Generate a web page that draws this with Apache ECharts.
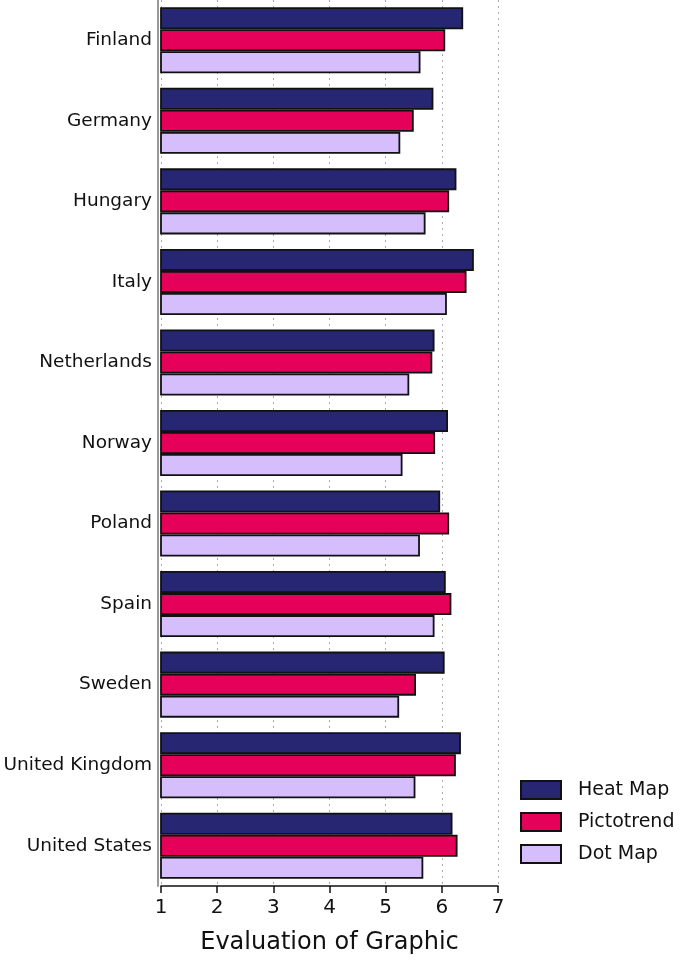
<!DOCTYPE html>
<html>
<head>
<meta charset="utf-8">
<script src="https://cdn.jsdelivr.net/npm/echarts@6/dist/echarts.min.js"></script>
<style>
html,body{margin:0;padding:0;background:#fff;}
#chart{width:689px;height:961px;}
</style>
</head>
<body>
<div id="chart"></div>
<script>
const countries = ["Finland","Germany","Hungary","Italy","Netherlands","Norway","Poland","Spain","Sweden","United Kingdom","United States"];
const heatMap    = [6.38, 5.85, 6.26, 6.57, 5.87, 6.11, 5.97, 6.07, 6.05, 6.34, 6.19];
const pictotrend = [6.06, 5.50, 6.13, 6.44, 5.83, 5.88, 6.13, 6.17, 5.54, 6.25, 6.28];
const dotMap     = [5.62, 5.26, 5.71, 6.09, 5.42, 5.30, 5.61, 5.87, 5.24, 5.53, 5.67];
const xTicks = [1, 2, 3, 4, 5, 6, 7];

const FONT = "DejaVu Sans";
const chart = echarts.init(document.getElementById('chart'), null, {renderer: 'canvas'});

function barSeries(name, data, color) {
  return {
    name: name,
    type: 'bar',
    data: data,
    barGap: '0%',
    barCategoryGap: '18%',
    itemStyle: {color: color, borderColor: '#111', borderWidth: 1.8},
    emphasis: {disabled: true}
  };
}

chart.setOption({
  animation: false,
  backgroundColor: '#ffffff',
  textStyle: {fontFamily: FONT},
  grid: {left: 161, right: 191, top: 0, bottom: 75, containLabel: false, outerBoundsMode: 'none'},
  legend: {
    orient: 'vertical',
    left: 520,
    top: 780,
    padding: 0,
    itemWidth: 40,
    itemHeight: 18,
    itemGap: 12,
    icon: 'rect',
    textStyle: {fontFamily: FONT, fontSize: 19, color: '#111', padding: [0, 0, 0, 12]},
    data: ['Heat Map', 'Pictotrend', 'Dot Map']
  },
  xAxis: {
    type: 'value',
    min: xTicks[0],
    max: xTicks[xTicks.length - 1],
    interval: 1,
    name: 'Evaluation of Graphic',
    nameLocation: 'middle',
    nameGap: 45,
    nameTextStyle: {fontFamily: FONT, fontSize: 24, color: '#111'},
    axisLine: {show: true, lineStyle: {color: '#111', width: 1.5}},
    axisTick: {show: true, length: 7, lineStyle: {color: '#111', width: 1.5}},
    axisLabel: {fontFamily: FONT, fontSize: 20, color: '#111', margin: 12},
    splitLine: {show: true, lineStyle: {color: '#aaa', type: [2, 4], width: 1}}
  },
  yAxis: {
    type: 'category',
    data: countries,
    inverse: true,
    offset: 3,
    axisLine: {show: true, lineStyle: {color: '#999', width: 2}},
    axisTick: {show: false},
    axisLabel: {fontFamily: FONT, fontSize: 18.5, color: '#111', margin: 6},
    splitLine: {show: false}
  },
  series: [
    barSeries('Heat Map', heatMap, '#262672'),
    barSeries('Pictotrend', pictotrend, '#E5005A'),
    barSeries('Dot Map', dotMap, '#D5BEFB')
  ]
});
</script>
</body>
</html>
